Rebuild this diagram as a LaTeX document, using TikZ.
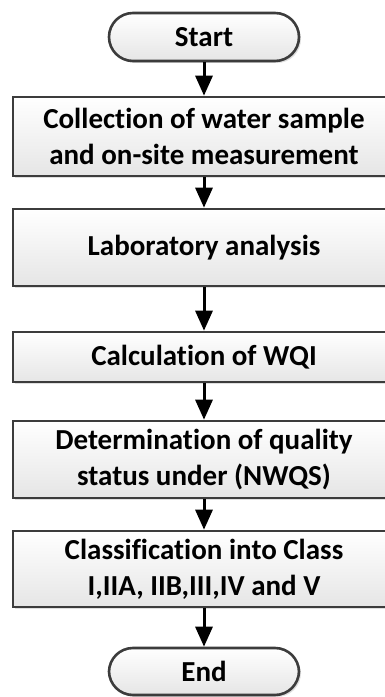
\documentclass[tikz,border=0pt]{standalone}
\usepackage{fontspec}
\setmainfont{Carlito}[Ligatures=NoCommon]
\usetikzlibrary{arrows.meta,shadows}
\definecolor{edge}{HTML}{3C3C3C}
\tikzset{
  x=1pt,y=1pt,
  procbox/.style={draw=edge, line width=2.6pt, top color=white, bottom color=black!10,
    minimum width=382pt, inner sep=0pt, align=center,
    font=\fontsize{29}{36}\selectfont\bfseries,
    drop shadow={shadow xshift=2pt, shadow yshift=-2pt, fill=black!25, opacity=0.5}},
  termbox/.style={procbox, minimum width=190pt, rounded corners=24pt},
  flow/.style={line width=3pt, -{Triangle[length=20pt,width=17pt]}}
}
\begin{document}
\begin{tikzpicture}
\useasboundingbox (0,0) rectangle (385,697);
\node[termbox, minimum height=48pt] (start) at (204,660) {Start};
\node[procbox, minimum height=79pt] (b1) at (204,560.5) {Collection of water sample\\and on-site measurement};
\node[procbox, minimum height=77pt] (b2) at (204,449.5) {Laboratory analysis};
\node[procbox, minimum height=50pt] (b3) at (204,340) {Calculation of WQI};
\node[procbox, minimum height=77pt] (b4) at (204,237.5) {Determination of quality\\status under (NWQS)};
\node[procbox, minimum height=76pt] (b5) at (204,128) {Classification into Class\\I,IIA, IIB,III,IV and V};
\node[termbox, minimum height=47pt] (end) at (204,25.5) {End};
\draw[flow] (start) -- (b1);
\draw[flow] (b1) -- (b2);
\draw[flow] (b2) -- (b3);
\draw[flow] (b3) -- (b4);
\draw[flow] (b4) -- (b5);
\draw[flow] (b5) -- (end);
\end{tikzpicture}
\end{document}
